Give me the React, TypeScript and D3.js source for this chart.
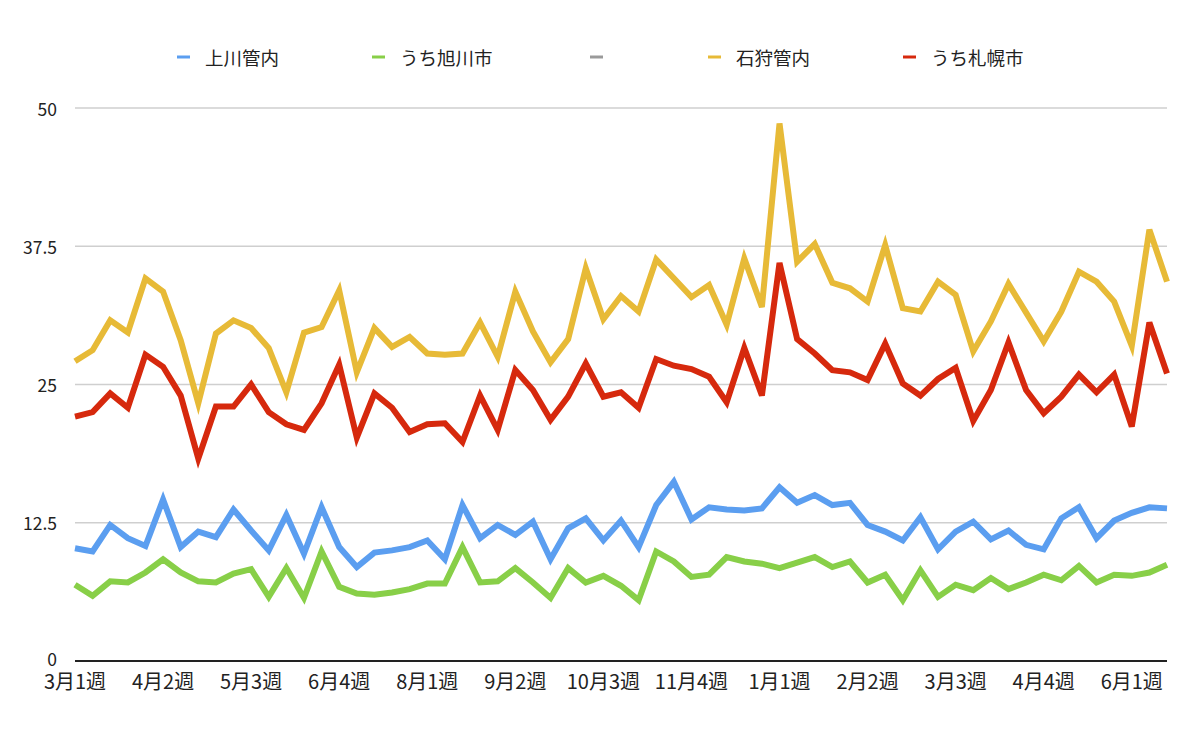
import { useEffect, useRef } from "react";
import * as d3 from "d3";

// 月ごとに4週ずつ、3月1週〜翌年6月3週
const MONTHS = [3, 4, 5, 6, 7, 8, 9, 10, 11, 12, 1, 2, 3, 4, 5, 6];
const WEEKS = [1, 2, 3, 4];
const CATEGORIES: string[] = MONTHS.flatMap((m) => WEEKS.map((w) => `${m}月${w}週`)).slice(0, 63);
const TICK_EVERY = 5;
const Y_TICKS = [0, 12.5, 25, 37.5, 50];

const KAMIKAWA = [
  10.2, 9.9, 12.3, 11.1, 10.4, 14.6, 10.3, 11.7, 11.2, 13.7, 11.8, 10.0, 13.2, 9.7, 13.9, 10.3,
  8.5, 9.8, 10.0, 10.3, 10.9, 9.2, 14.1, 11.1, 12.3, 11.4, 12.6, 9.2, 12.0, 12.9, 10.9, 12.7,
  10.3, 14.1, 16.2, 12.8, 13.9, 13.7, 13.6, 13.8, 15.7, 14.3, 15.0, 14.1, 14.3, 12.3, 11.7, 10.9,
  13.0, 10.1, 11.7, 12.6, 11.0, 11.8, 10.5, 10.1, 12.9, 13.9, 11.1, 12.7, 13.4, 13.9, 13.8,
];
const ASAHIKAWA = [
  6.9, 5.9, 7.2, 7.1, 8.0, 9.2, 8.0, 7.2, 7.1, 7.9, 8.3, 5.8, 8.4, 5.7, 9.9, 6.7,
  6.1, 6.0, 6.2, 6.5, 7.0, 7.0, 10.3, 7.1, 7.2, 8.4, 7.1, 5.7, 8.4, 7.1, 7.7, 6.8,
  5.5, 9.9, 9.0, 7.6, 7.8, 9.4, 9.0, 8.8, 8.4, 8.9, 9.4, 8.5, 9.0, 7.1, 7.8, 5.5,
  8.2, 5.8, 6.9, 6.4, 7.5, 6.5, 7.1, 7.8, 7.3, 8.6, 7.1, 7.8, 7.7, 8.0, 8.7,
];
const BLANK: number[] = [];
const ISHIKARI = [
  27.1, 28.1, 30.8, 29.7, 34.6, 33.4, 29.0, 23.3, 29.6, 30.8, 30.1, 28.3, 24.3, 29.7, 30.2, 33.5,
  26.1, 30.1, 28.4, 29.3, 27.8, 27.7, 27.8, 30.6, 27.5, 33.4, 29.8, 27.0, 29.1, 35.5, 30.9, 33.0,
  31.6, 36.3, 34.6, 32.9, 34.0, 30.4, 36.4, 32.0, 48.6, 36.1, 37.7, 34.2, 33.7, 32.5, 37.6, 31.9,
  31.6, 34.3, 33.1, 28.0, 30.7, 34.1, 31.5, 28.9, 31.6, 35.2, 34.3, 32.5, 28.5, 39.0, 34.3,
];
const SAPPORO = [
  22.1, 22.5, 24.2, 22.9, 27.7, 26.6, 24.0, 18.3, 23.0, 23.0, 25.0, 22.5, 21.4, 20.9, 23.3, 26.8,
  20.2, 24.2, 22.9, 20.7, 21.4, 21.5, 19.8, 24.0, 20.9, 26.3, 24.5, 21.8, 23.9, 26.9, 23.9, 24.3,
  22.9, 27.3, 26.7, 26.4, 25.7, 23.4, 28.3, 24.0, 36.0, 29.1, 27.8, 26.3, 26.1, 25.4, 28.7, 25.1,
  24.0, 25.5, 26.5, 21.7, 24.5, 28.8, 24.5, 22.4, 23.9, 25.9, 24.3, 25.9, 21.2, 30.6, 26.0,
];

const SERIES_NAMES = ["上川管内", "うち旭川市", "", "石狩管内", "うち札幌市"];
const SERIES_VALUES = [KAMIKAWA, ASAHIKAWA, BLANK, ISHIKARI, SAPPORO];
const SERIES_COLORS = ["#5b9ef0", "#88cf48", "#9a9a9a", "#e7ba37", "#d6290d"];
const LEGEND_X = [177, 372, 590, 708, 903];

const WIDTH = 1200;
const HEIGHT = 731;
const FONT = '"Noto Sans CJK JP", "Noto Sans", sans-serif';

function renderChart(el: SVGSVGElement | null) {
  if (!el) return;
  const svg = d3.select(el);
  svg.selectAll("*").remove();
  svg.attr("width", WIDTH).attr("height", HEIGHT).style("font-family", FONT);

  const x = d3.scaleLinear().domain([0, CATEGORIES.length - 1]).range([75, 1167]);
  const y = d3.scaleLinear().domain([0, 50]).range([661, 108]);

  svg.append("rect").attr("width", WIDTH).attr("height", HEIGHT).attr("fill", "#fff");

  // grid lines
  svg
    .selectAll("line.grid")
    .data(Y_TICKS.filter((t) => t > 0))
    .join("line")
    .attr("x1", 75)
    .attr("x2", 1167)
    .attr("y1", (d) => y(d))
    .attr("y2", (d) => y(d))
    .attr("stroke", "#cfcfcf")
    .attr("stroke-width", 1.5);

  // y labels ("0" sits a touch higher so it clears the first x label)
  svg
    .selectAll("text.ylab")
    .data(Y_TICKS)
    .join("text")
    .attr("x", 57)
    .attr("y", (d) => (d === 0 ? y(d) - 3 : y(d)))
    .attr("text-anchor", "end")
    .attr("dominant-baseline", "central")
    .attr("font-size", 17.5)
    .attr("fill", "#222")
    .text((d) => String(d));

  // lines
  const line = d3
    .line<number>()
    .x((_, i) => x(i))
    .y((d) => y(d));

  SERIES_VALUES.forEach((vals, k) => {
    if (!vals.length) return;
    svg
      .append("path")
      .attr("d", line(vals)!)
      .attr("fill", "none")
      .attr("stroke", SERIES_COLORS[k])
      .attr("stroke-width", 6)
      .attr("stroke-linejoin", "miter")
      .attr("stroke-miterlimit", 4);
  });

  // x axis
  svg
    .append("line")
    .attr("x1", 75)
    .attr("x2", 1167)
    .attr("y1", y(0))
    .attr("y2", y(0))
    .attr("stroke", "#222")
    .attr("stroke-width", 2);

  svg
    .selectAll("text.xlab")
    .data(CATEGORIES.map((c, i) => ({ c, i })).filter((d) => d.i % TICK_EVERY === 0))
    .join("text")
    .attr("x", (d) => x(d.i))
    .attr("y", 680)
    .attr("text-anchor", "middle")
    .attr("dominant-baseline", "central")
    .attr("font-size", 20)
    .attr("fill", "#222")
    .text((d) => d.c);

  // legend
  SERIES_NAMES.forEach((name, k) => {
    const lx = LEGEND_X[k];
    svg
      .append("line")
      .attr("x1", lx)
      .attr("x2", lx + 13)
      .attr("y1", 57)
      .attr("y2", 57)
      .attr("stroke", SERIES_COLORS[k])
      .attr("stroke-width", 3);
    svg
      .append("text")
      .attr("x", lx + 28)
      .attr("y", 57)
      .attr("dominant-baseline", "central")
      .attr("font-size", 18.5)
      .attr("fill", "#222")
      .text(name);
  });
}

export default function App() {
  const ref = useRef<SVGSVGElement>(null);
  useEffect(() => {
    renderChart(ref.current);
  }, []);
  return <svg ref={ref} style={{ position: "absolute", left: 0, top: 0 }} />;
}
